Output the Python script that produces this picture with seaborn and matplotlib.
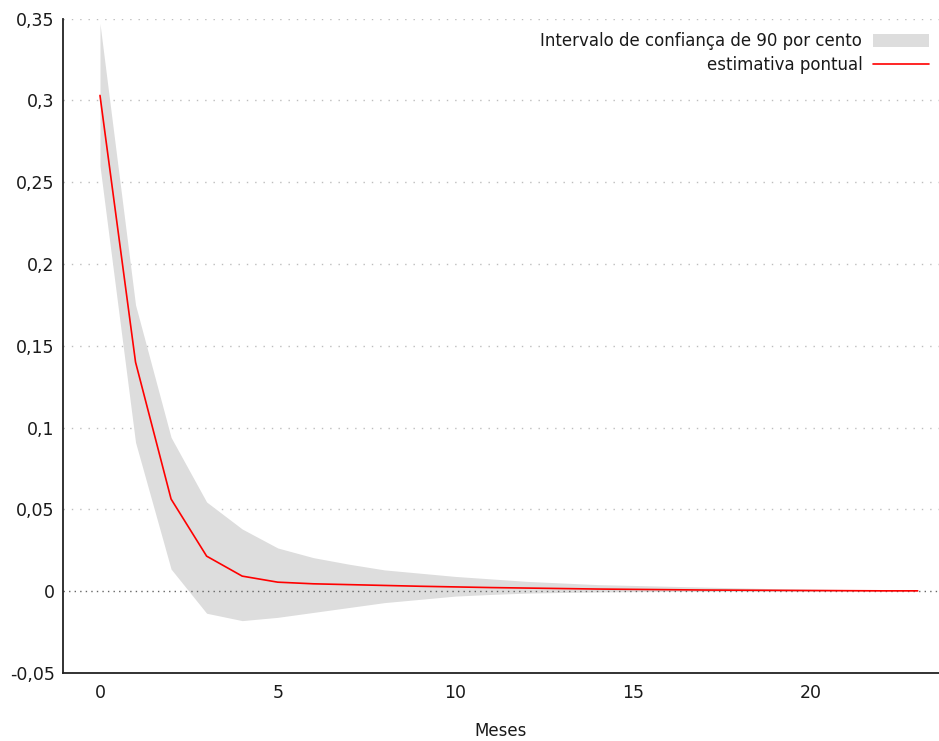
import numpy as np
import pandas as pd
import matplotlib
matplotlib.use("Agg")
import matplotlib.pyplot as plt
import seaborn as sns
from matplotlib.patches import Patch
from matplotlib.lines import Line2D

# Impulse response: point estimate with 90% confidence band
meses = list(range(24))
estimativa = [0.303, 0.140, 0.0563, 0.0214, 0.0092, 0.0055, 0.0045, 0.0040,
              0.0035, 0.0030, 0.0026, 0.0022, 0.0019, 0.0016, 0.0013, 0.0011,
              0.0009, 0.0007, 0.0006, 0.0005, 0.0004, 0.0003, 0.0002, 0.0002]
superior = [0.347, 0.175, 0.094, 0.0545, 0.038, 0.0264, 0.0205, 0.0165,
            0.013, 0.011, 0.009, 0.0075, 0.006, 0.005, 0.004, 0.0035,
            0.003, 0.0025, 0.002, 0.0015, 0.0012, 0.001, 0.0008, 0.0006]
inferior = [0.260, 0.091, 0.0135, -0.0135, -0.018, -0.016, -0.013, -0.010,
            -0.007, -0.005, -0.003, -0.002, -0.0012, -0.0008, -0.0005, -0.0003,
            -0.0002, -0.0002, -0.0001, -0.0001, -0.0001, 0.0, 0.0, 0.0]

y_ticks = [-0.05, 0, 0.05, 0.1, 0.15, 0.2, 0.25, 0.3, 0.35]
y_tick_labels = ["-0,05", "0", "0,05", "0,1", "0,15", "0,2", "0,25", "0,3", "0,35"]
x_ticks = [0, 5, 10, 15, 20]

df = pd.DataFrame({"Meses": meses, "estimativa": estimativa,
                   "superior": superior, "inferior": inferior})

sns.set_style("white")
plt.rcParams["font.family"] = ["DejaVu Sans"]
plt.rcParams["font.size"] = 12

fig = plt.figure(figsize=(9.39, 7.41), dpi=100)
ax = fig.add_axes([0.0671, 0.0918, 0.9329, 0.8832])

band_color = "#dddddd"
ax.fill_between(df["Meses"], df["inferior"], df["superior"],
                color=band_color, linewidth=0, zorder=1)
sns.lineplot(data=df, x="Meses", y="estimativa", color="#ff0000",
             linewidth=1.2, ax=ax, zorder=3)

# horizontal grid and zero axis
for yv in y_ticks:
    if yv == 0:
        continue
    ax.axhline(yv, color="#bdbdbd", linewidth=1.0, linestyle=(0, (1, 5)), zorder=0)
ax.axhline(0, color="#666666", linewidth=1.0, linestyle=(0, (1, 3)), zorder=2)

ax.set_xlim(-1.04, 23.6)
ax.set_ylim(-0.05, 0.35)
ax.set_yticks(y_ticks)
ax.set_yticklabels(y_tick_labels)
ax.set_xticks(x_ticks)
ax.set_xticklabels([str(v) for v in x_ticks])

for side in ["top", "right"]:
    ax.spines[side].set_visible(False)
for side in ["left", "bottom"]:
    ax.spines[side].set_color("#222222")
    ax.spines[side].set_linewidth(1.3)

ax.tick_params(axis="both", direction="in", length=9, width=1.3,
               color="#222222", labelcolor="#1a1a1a", labelsize=12.5, pad=8)
ax.tick_params(axis="y", pad=6)
ax.set_xlabel("Meses", fontsize=12, color="#1a1a1a", labelpad=14)
ax.set_ylabel("")

handles = [Patch(facecolor=band_color, edgecolor="none"),
           Line2D([0], [0], color="#ff0000", linewidth=1.2)]
labels = ["Intervalo de confiança de 90 por cento", "estimativa pontual"]
leg = ax.legend(handles, labels, loc="upper right", bbox_to_anchor=(0.9886, 0.9794),
                frameon=False, markerfirst=False, handlelength=3.35,
                handleheight=0.8, handletextpad=0.65, labelspacing=0.35,
                borderpad=0, borderaxespad=0, fontsize=12)
for t in leg.get_texts():
    t.set_color("#1a1a1a")

fig.savefig("out.png", dpi=100)
